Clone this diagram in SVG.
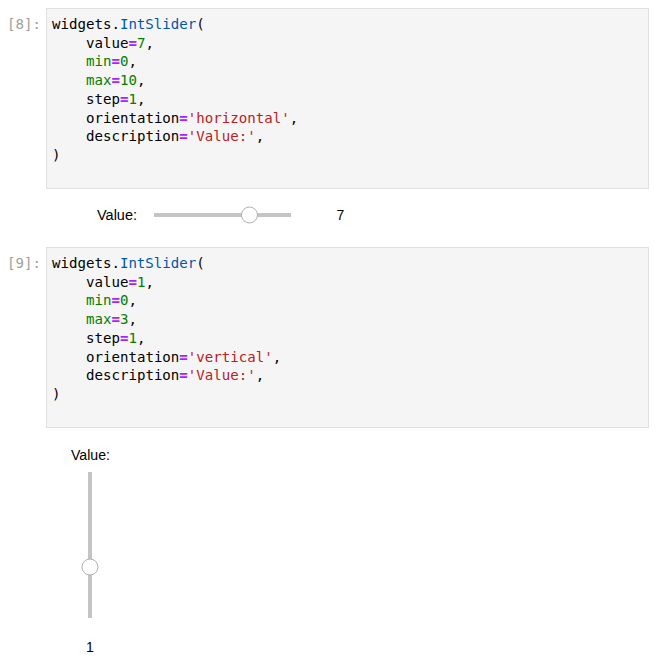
<svg xmlns="http://www.w3.org/2000/svg" width="666" height="657" viewBox="0 0 666 657">
<style>
.cell{fill:#f5f5f5;stroke:#e0e0e0;stroke-width:1}
.code{font-family:"DejaVu Sans Mono","Liberation Mono",monospace;font-size:14.1px;fill:#000}
.prompt{font-family:"DejaVu Sans Mono","Liberation Mono",monospace;font-size:14.1px;fill:#9e9e9e}
.v{fill:#0055aa}
.o{fill:#aa22ff;font-weight:bold}
.n{fill:#008000}
.b{fill:#008000}
.s{fill:#ba2121}
.lbl{font-family:"Liberation Sans",Arial,sans-serif;font-size:14px;fill:#000}
.track{fill:#c4c4c4}
.handle{fill:#fff;stroke:#b0b0b0;stroke-width:1}
</style>
<rect width="666" height="657" fill="#fff"/>
<g id="cell8">
<rect class="cell" x="46.5" y="8.5" width="602" height="180"/>
<text class="prompt" x="7" y="29">[8]:</text>
<text class="code" x="52" y="29">widgets.<tspan class="v">IntSlider</tspan>(</text>
<text class="code" x="86" y="47.7">value<tspan class="o">=</tspan><tspan class="n">7</tspan>,</text>
<text class="code" x="86" y="66.4"><tspan class="b">min</tspan><tspan class="o">=</tspan><tspan class="n">0</tspan>,</text>
<text class="code" x="86" y="85.1"><tspan class="b">max</tspan><tspan class="o">=</tspan><tspan class="n">10</tspan>,</text>
<text class="code" x="86" y="103.8">step<tspan class="o">=</tspan><tspan class="n">1</tspan>,</text>
<text class="code" x="86" y="122.5">orientation<tspan class="o">=</tspan><tspan class="s">'horizontal'</tspan>,</text>
<text class="code" x="86" y="141.2">description<tspan class="o">=</tspan><tspan class="s">'Value:'</tspan>,</text>
<text class="code" x="52" y="159.9">)</text>
</g>
<g id="slider-h">
<text class="lbl" x="97" y="220" textLength="40" lengthAdjust="spacingAndGlyphs">Value:</text>
<rect class="track" x="154" y="213" width="137" height="4"/>
<circle class="handle" cx="249.5" cy="215" r="8"/>
<text class="lbl" x="340.5" y="220" text-anchor="middle">7</text>
</g>
<g id="cell9">
<rect class="cell" x="46.5" y="247.5" width="602" height="180"/>
<text class="prompt" x="7" y="268">[9]:</text>
<text class="code" x="52" y="268">widgets.<tspan class="v">IntSlider</tspan>(</text>
<text class="code" x="86" y="286.7">value<tspan class="o">=</tspan><tspan class="n">1</tspan>,</text>
<text class="code" x="86" y="305.4"><tspan class="b">min</tspan><tspan class="o">=</tspan><tspan class="n">0</tspan>,</text>
<text class="code" x="86" y="324.1"><tspan class="b">max</tspan><tspan class="o">=</tspan><tspan class="n">3</tspan>,</text>
<text class="code" x="86" y="342.8">step<tspan class="o">=</tspan><tspan class="n">1</tspan>,</text>
<text class="code" x="86" y="361.5">orientation<tspan class="o">=</tspan><tspan class="s">'vertical'</tspan>,</text>
<text class="code" x="86" y="380.2">description<tspan class="o">=</tspan><tspan class="s">'Value:'</tspan>,</text>
<text class="code" x="52" y="398.9">)</text>
</g>
<g id="slider-v">
<text class="lbl" x="71" y="460" textLength="39" lengthAdjust="spacingAndGlyphs">Value:</text>
<rect class="track" x="88" y="472" width="4" height="146"/>
<circle class="handle" cx="90" cy="567" r="8"/>
<text class="lbl" x="90" y="652" text-anchor="middle">1</text>
</g>
</svg>
